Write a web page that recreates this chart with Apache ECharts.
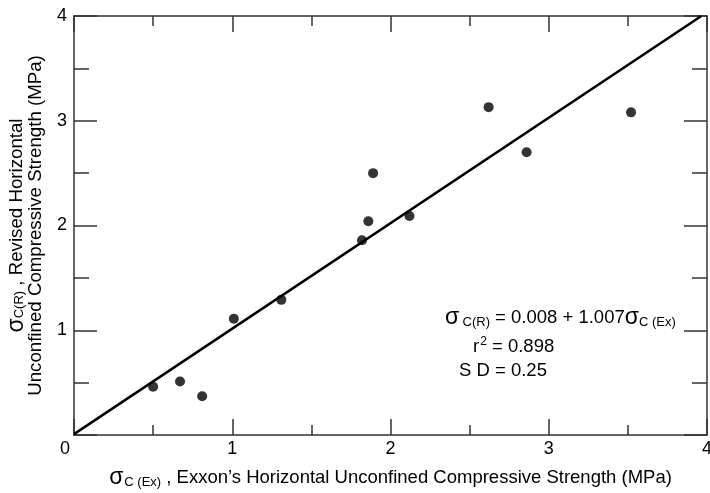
<!DOCTYPE html>
<html>
<head>
<meta charset="utf-8">
<script src="https://cdn.jsdelivr.net/npm/echarts@6/dist/echarts.min.js"></script>
<style>html,body{margin:0;padding:0;background:#fff}#c{width:710px;height:493px}</style>
</head>
<body>
<div id="c"></div>
<script>
// Data
const exxonX = [0.50, 0.67, 0.81, 1.01, 1.31, 1.82, 1.86, 1.89, 2.12, 2.62, 2.86, 3.52];
const revisedY = [0.46, 0.51, 0.37, 1.11, 1.29, 1.86, 2.04, 2.50, 2.09, 3.13, 2.70, 3.08];
const fitIntercept = 0.008;
const fitSlope = 1.007;
const xTicks = [0, 1, 2, 3, 4];
const yTicks = [1, 2, 3, 4];
const axisMin = 0, axisMax = 4;

const points = exxonX.map((x, i) => [x, revisedY[i]]);
const fitLine = [[axisMin, fitIntercept + fitSlope * axisMin],
                 [(axisMax - fitIntercept) / fitSlope, axisMax]];

const font = 'Liberation Sans, Arial, sans-serif';
const axisColor = '#333';
const common = {
  min: axisMin, max: axisMax, interval: 1, type: 'value',
  axisLine: { show: true, onZero: false, lineStyle: { color: axisColor, width: 1.5 } },
  splitLine: { show: false }
};

const chart = echarts.init(document.getElementById('c'));
chart.setOption({
  animation: false,
  textStyle: { fontFamily: font },
  grid: { left: 74, right: 3, top: 16, bottom: 58, containLabel: false, outerBoundsMode: 'none' },
  xAxis: [
    Object.assign({}, common, {
      position: 'bottom',
      axisTick: { inside: true, length: 16, lineStyle: { color: axisColor, width: 1.5 } },
      minorTick: { show: true, splitNumber: 2, length: 10, lineStyle: { color: axisColor, width: 1.5 } },
      axisLabel: {
        color: '#000', fontSize: 18, fontFamily: font, margin: 5,
        formatter: v => xTicks.includes(v) ? (v === 0 ? '{z|0}' : String(v)) : '',
        rich: { z: { fontSize: 18, fontFamily: font, color: '#000', padding: [0, 18, 0, 0] } }
      },
      name: '{s|σ}{sub|C (Ex)}{n| , Exxon\u2019s Horizontal Unconfined Compressive Strength (MPa)}',
      nameLocation: 'middle', nameGap: 31,
      nameTextStyle: {
        color: '#000',
        rich: {
          s: { fontSize: 23, fontFamily: font, color: '#000' },
          sub: { fontSize: 13, fontFamily: font, color: '#000', verticalAlign: 'bottom', padding: [9, 0, 0, 1] },
          n: { fontSize: 18.5, fontFamily: font, color: '#000' }
        }
      }
    }),
    Object.assign({}, common, {
      position: 'top',
      axisTick: { inside: true, length: 16, lineStyle: { color: axisColor, width: 1.5 } },
      minorTick: { show: true, splitNumber: 2, length: 10, lineStyle: { color: axisColor, width: 1.5 } },
      axisLabel: { show: false }
    })
  ],
  yAxis: [
    Object.assign({}, common, {
      position: 'left',
      axisTick: { inside: true, length: 23, lineStyle: { color: axisColor, width: 1.5 } },
      minorTick: { show: true, splitNumber: 2, length: 15, lineStyle: { color: axisColor, width: 1.5 } },
      axisLabel: {
        color: '#000', fontSize: 18, fontFamily: font, margin: 7,
        formatter: v => yTicks.includes(v) ? String(v) : ''
      },
      name: '{s|σ}{sub|C(R)}{n| , Revised Horizontal}\n{n|Unconfined Compressive Strength (MPa)}',
      nameLocation: 'middle', nameGap: 29, nameRotate: 90,
      nameTextStyle: {
        color: '#000', lineHeight: 19,
        rich: {
          s: { fontSize: 23, fontFamily: font, color: '#000', lineHeight: 19 },
          sub: { fontSize: 13, fontFamily: font, color: '#000', verticalAlign: 'bottom', lineHeight: 19 },
          n: { fontSize: 18.7, fontFamily: font, color: '#000', lineHeight: 19 }
        }
      }
    }),
    Object.assign({}, common, {
      position: 'right',
      axisTick: { inside: true, length: 23, lineStyle: { color: axisColor, width: 1.5 } },
      minorTick: { show: true, splitNumber: 2, length: 15, lineStyle: { color: axisColor, width: 1.5 } },
      axisLabel: { show: false }
    })
  ],
  series: [
    {
      type: 'line', data: fitLine, xAxisIndex: 0, yAxisIndex: 0,
      showSymbol: false, symbol: 'none',
      lineStyle: { color: '#000', width: 2.5 }, silent: true, z: 2
    },
    {
      type: 'scatter', data: points, xAxisIndex: 0, yAxisIndex: 0,
      symbol: 'circle', symbolSize: 10,
      itemStyle: { color: '#000' }, z: 3
    }
  ],
  graphic: [
    {
      type: 'text', left: 445, top: 306,
      style: {
        text: '{s|σ} {sub|C(R)}{n| = 0.008 + 1.007}{s|σ}{sub|C (Ex)}',
        rich: {
          s: { fontSize: 23, fontFamily: font, fill: '#000' },
          sub: { fontSize: 13, fontFamily: font, fill: '#000', verticalAlign: 'bottom', padding: [9, 0, 0, 0] },
          n: { fontSize: 18.5, fontFamily: font, fill: '#000' }
        }
      }
    },
    {
      type: 'text', left: 473, top: 336,
      style: {
        text: '{n|r}{sup|2}{n| = 0.898}',
        rich: {
          n: { fontSize: 18.5, fontFamily: font, fill: '#000' },
          sup: { fontSize: 12, fontFamily: font, fill: '#000', verticalAlign: 'top', padding: [0, 0, 9, 1] }
        }
      }
    },
    {
      type: 'text', left: 459, top: 361,
      style: { text: 'S D = 0.25', font: '18.5px ' + font, fill: '#000' }
    }
  ]
});
</script>
</body>
</html>
